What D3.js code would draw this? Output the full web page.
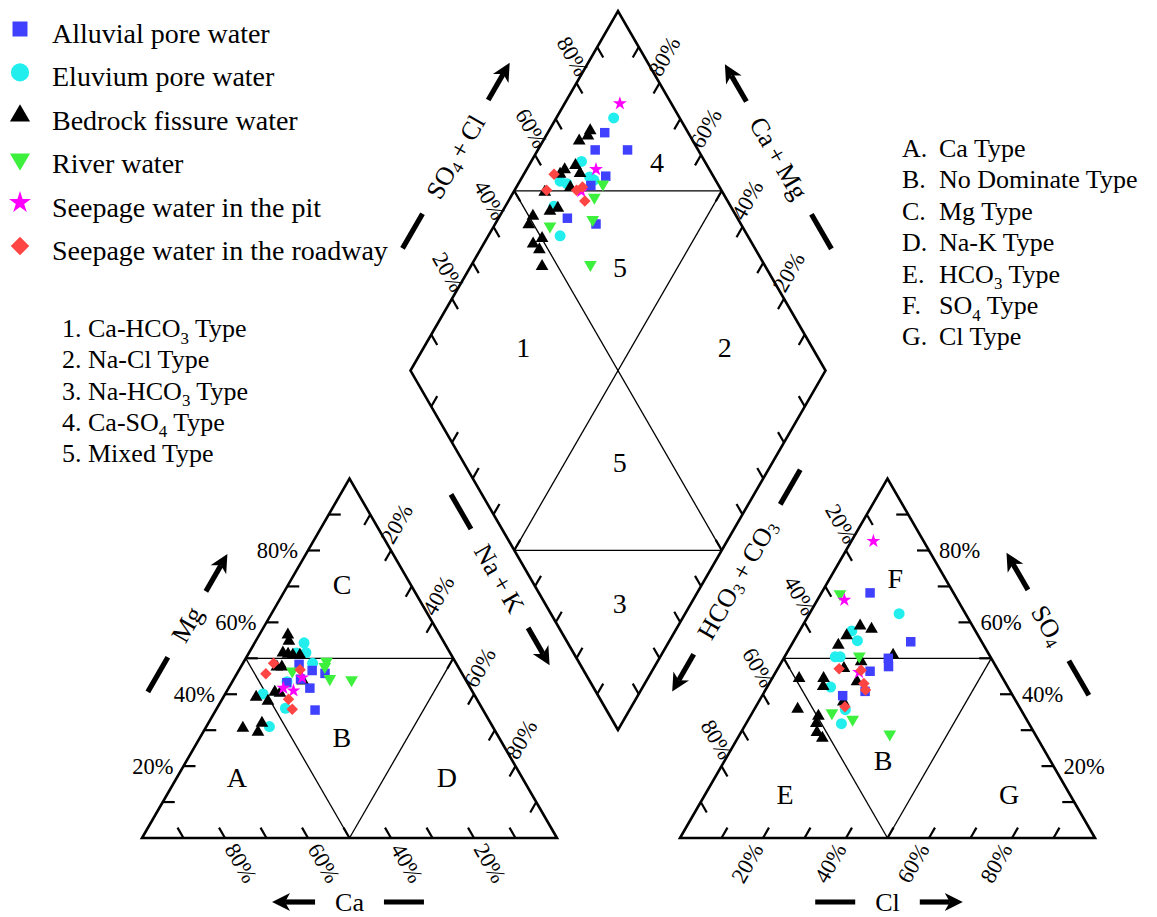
<!DOCTYPE html>
<html>
<head>
<meta charset="utf-8">
<script src="https://cdn.jsdelivr.net/npm/d3@7"></script>
<style>
  body { margin: 0; background: #fff; }
  text { font-family: "Liberation Serif", "Times New Roman", serif; fill: #000; }
</style>
</head>
<body>
<script>
// ---- data ----
// cation triangle: [Ca %, Mg %]  (Na+K = rest)
// anion triangle:  [Cl %, SO4 %] (HCO3+CO3 = rest)
// diamond:         [Ca+Mg %, SO4+Cl %]
const seriesNames = ["Alluvial pore water", "Eluvium pore water", "Bedrock fissure water",
                     "River water", "Seepage water in the pit", "Seepage water in the roadway"];
const seriesColors = ["#4040ff", "#22eeee", "#000000", "#3ef03e", "#ff00ff", "#ff4444"];
const seriesShapes = ["square", "circle", "up", "down", "star", "diamond"];

const alluvialCat = [[38.0,48.3],[35.7,46.6],[33.0,45.8],[39.7,44.2],[43.5,43.2],[38.7,41.7],[40.5,35.6]];
const alluvialAn  = [[11.7,68.2],[28.3,54.6],[25.2,50.0],[26.4,47.7],[22.6,46.4],[24.2,40.8],[19.4,39.6]];
const alluvialDia = [[86.3,79.9],[86.2,75.2],[78.4,83.0],[80.0,74.1],[82.3,69.2],[83.4,59.0],[75.7,65.1]];

const eluviumCat = [[33.8,54.3],[34.7,51.6],[37.1,51.5],[34.6,48.6],[43.3,43.5],[50.8,40.1],[47.4,36.1],[53.8,31.0]];
const eluviumAn  = [[21.6,62.4],[12.6,57.6],[15.3,54.9],[12.2,50.4],[13.4,50.4],[15.3,42.0],[22.0,35.7],[23.0,31.8]];
const eluviumDia = [[86.2,84.1],[87.9,70.3],[90.3,62.4],[88.3,63.7],[83.8,70.1],[82.3,70.7],[88.3,57.4],[82.7,54.8]];

const bedrockCat = [[36.6,56.5],[37.2,54.8],[40.3,51.5],[38.2,50.9],[36.5,50.9],[39.2,51.2],[43.7,47.6],[42.5,47.6],
                    [47.7,40.6],[46.6,40.3],[52.9,39.2],[50.6,38.1],[39.4,43.7],[60.4,30.6],[55.1,32.0],[57.3,29.5]];
const bedrockAn  = [[13.9,59.0],[17.1,58.1],[12.0,56.3],[11.3,53.7],[25.9,50.9],[19.1,49.1],[15.9,47.2],[12.4,44.4],[13.4,42.2],
                    [20.9,43.5],[6.5,44.4],[10.4,35.9],[16.4,33.9],[16.9,31.9],[18.3,29.4],[20.4,27.8],[20.4,37.9]];
const bedrockDia = [[90.1,76.7],[89.9,75.4],[91.3,72.6],[90.8,65.1],[88.8,68.3],[86.6,68.3],[91.3,63.4],[87.0,64.0],[92.5,57.2],
                    [87.1,58.1],[88.6,55.8],[92.0,51.0],[91.8,48.8],[86.7,50.1],[88.1,47.2],[85.8,47.9],[82.8,46.2]];

const riverCat = [[31.0,49.1],[32.1,47.7],[40.6,46.4],[32.6,44.3],[27.5,44.0]];
const riverAn  = [[4.6,67.9],[17.9,50.6],[19.2,34.8],[25.1,33.0],[36.1,28.9]];
const riverDia = [[79.6,72.3],[79.8,68.4],[77.1,64.9],[86.5,53.7],[71.4,58.1]];

const pitCat = [[39.1,44.6],[45.1,41.7],[43.0,41.0]];
const pitAn  = [[5.3,82.6],[6.5,66.2],[20.1,46.1]];
const pitDia = [[86.7,87.6],[83.3,72.7],[83.8,66.1]];

const roadwayCat = [[44.0,48.6],[47.3,45.7],[38.5,46.8],[45.4,38.6],[45.9,35.8]];
const roadwayAn  = [[14.8,47.1],[20.3,46.7],[22.8,43.0],[24.1,41.2],[21.5,36.5]];
const roadwayDia = [[92.7,61.9],[92.3,57.9],[85.1,65.1],[84.1,67.0],[81.6,65.6]];

const tickValues = [10, 20, 30, 40, 50, 60, 70, 80, 90];
const tickLabelValues = [20, 40, 60, 80];

const typeLetters = ["A.", "B.", "C.", "D.", "E.", "F.", "G."];
const typeNames = ["Ca Type", "No Dominate Type", "Mg Type", "Na-K Type", "HCO_3 Type", "SO_4 Type", "Cl Type"];
const hydroTypes = ["1. Ca-HCO_3 Type", "2. Na-Cl Type", "3. Na-HCO_3 Type", "4. Ca-SO_4 Type", "5. Mixed Type"];

// ---- geometry ----
const S = 415, SIN = Math.sqrt(3) / 2, TICK = 12;
const len = d3.scaleLinear().domain([0, 100]).range([0, S]);
const catOrigin = [142, 838], anOrigin = [680, 838], diaOrigin = [618, 730];

function catXY(ca, mg) {
  const nak = 100 - ca - mg;
  return [catOrigin[0] + len(nak) + len(mg) / 2, catOrigin[1] - len(mg) * SIN];
}
function anXY(cl, so4) {
  return [anOrigin[0] + len(cl) + len(so4) / 2, anOrigin[1] - len(so4) * SIN];
}
function diaXY(c, d) {
  return [diaOrigin[0] + (len(d) - len(c)) / 2, diaOrigin[1] - (len(c) + len(d)) * SIN];
}

const svg = d3.select("body").append("svg").attr("width", 1157).attr("height", 917);
const line = d3.line();

// outlines
function outline(pts) {
  svg.append("path").attr("d", line(pts) + "Z").attr("fill", "none")
    .attr("stroke", "#000").attr("stroke-width", 2.6).attr("stroke-linejoin", "miter");
}
outline([catXY(100, 0), catXY(0, 0), catXY(0, 100)]);
outline([anXY(0, 0), anXY(100, 0), anXY(0, 100)]);
outline([diaXY(0, 0), diaXY(100, 0), diaXY(100, 100), diaXY(0, 100)]);

// inner lines
const inner = [
  [catXY(50, 50), catXY(0, 50)], [catXY(50, 50), catXY(50, 0)], [catXY(50, 0), catXY(0, 50)],
  [anXY(0, 50), anXY(50, 50)], [anXY(0, 50), anXY(50, 0)], [anXY(50, 0), anXY(50, 50)],
  [diaXY(100, 50), diaXY(50, 100)], [diaXY(50, 0), diaXY(0, 50)],
  [diaXY(100, 50), diaXY(0, 50)], [diaXY(50, 100), diaXY(50, 0)]
];
svg.append("g").selectAll("path").data(inner).join("path")
  .attr("d", d => line(d)).attr("stroke", "#000").attr("stroke-width", 1.3).attr("fill", "none");

// ticks + labels
function edgeAxis(pointAt, dir, lab) {
  const g = svg.append("g");
  g.selectAll("line").data(tickValues).join("line")
    .attr("x1", v => pointAt(v)[0]).attr("y1", v => pointAt(v)[1])
    .attr("x2", v => pointAt(v)[0] + TICK * dir[0]).attr("y2", v => pointAt(v)[1] + TICK * dir[1])
    .attr("stroke", "#000").attr("stroke-width", 2.2);
  if (!lab) return;
  g.selectAll("text").data(tickLabelValues).join("text")
    .attr("transform", v => `translate(${pointAt(v)[0] + lab.dx},${pointAt(v)[1] + lab.dy}) rotate(${lab.rot})`)
    .attr("text-anchor", lab.anchor)
    .attr("dominant-baseline", lab.rot === 0 ? "central" : "auto")
    .attr("font-size", 22.5)
    .text(v => v + "%");
}
// cation
edgeAxis(v => catXY(100 - v, v), [1, 0], { dx: -10, dy: 0, rot: 0, anchor: "end" });
edgeAxis(v => catXY(v, 0), [-0.5, -SIN], { dx: -1, dy: 11, rot: 60, anchor: "start" });
edgeAxis(v => catXY(0, 100 - v), [-0.5, SIN], { dx: 2, dy: -5, rot: -60, anchor: "start" });
// anion
edgeAxis(v => anXY(100 - v, v), [-1, 0], { dx: 10, dy: 0, rot: 0, anchor: "start" });
edgeAxis(v => anXY(v, 0), [0.5, -SIN], { dx: 1, dy: 11, rot: -60, anchor: "end" });
edgeAxis(v => anXY(0, 100 - v), [0.5, SIN], { dx: -1, dy: -5, rot: 60, anchor: "end" });
// diamond
edgeAxis(v => diaXY(100, v), [0.5, SIN], { dx: 0, dy: -5, rot: 60, anchor: "end" });
edgeAxis(v => diaXY(v, 100), [-0.5, SIN], { dx: 1, dy: -5, rot: -60, anchor: "start" });
edgeAxis(v => diaXY(v, 0), [0.5, -SIN], null);
edgeAxis(v => diaXY(0, v), [-0.5, -SIN], null);

// text with subscripts ("_3")
function richText(sel, str, fs) {
  const parts = str.split(/_(\d)/);
  let down = false;
  parts.forEach((p, i) => {
    if (!p) return;
    const t = sel.append("tspan").text(p);
    if (i % 2 === 1) {
      t.attr("font-size", fs * 0.65).attr("dy", fs * 0.25);
      down = true;
    } else if (down) {
      t.attr("dy", -fs * 0.25);
      down = false;
    }
  });
  return sel;
}

// axis titles with dash and arrow
function axisTitle(a, b, n, txt, dist, shift, rot) {
  const L = Math.hypot(b[0] - a[0], b[1] - a[1]);
  const u = [(b[0] - a[0]) / L, (b[1] - a[1]) / L];
  const m = [(a[0] + b[0]) / 2, (a[1] + b[1]) / 2];
  const c = [m[0] + dist * n[0] + shift * u[0], m[1] + dist * n[1] + shift * u[1]];
  const t = svg.append("text")
    .attr("transform", `translate(${c[0]},${c[1]}) rotate(${rot})`)
    .attr("text-anchor", "middle").attr("dominant-baseline", "central")
    .attr("font-size", 26);
  richText(t, txt, 26);
  const half = t.node().getComputedTextLength() / 2, gap = 20;
  const at = k => [c[0] + k * u[0], c[1] + k * u[1]];
  const d0 = at(-half - gap - 40), d1 = at(-half - gap);
  svg.append("path").attr("d", line([d0, d1])).attr("stroke", "#000").attr("stroke-width", 5.2);
  const a0 = at(half + gap), tip = at(half + gap + 43), neck = at(half + gap + 30);
  const px = [-u[1], u[0]];
  svg.append("path").attr("d", line([a0, neck])).attr("stroke", "#000").attr("stroke-width", 5.2);
  const back = at(half + gap + 25);
  svg.append("path").attr("fill", "#000")
    .attr("d", line([tip, [back[0] + 9 * px[0], back[1] + 9 * px[1]], neck,
                     [back[0] - 9 * px[0], back[1] - 9 * px[1]]]) + "Z");
}
axisTitle(catXY(100, 0), catXY(0, 100), [-SIN, -0.5], "Mg", 68, 0, -60);
axisTitle(catXY(0, 0), catXY(100, 0), [0, 1], "Ca", 64, 0, 0);
axisTitle(catXY(0, 100), catXY(0, 0), [SIN, -0.5], "Na\u2009+\u2009K", 80, -46, 60);
axisTitle(anXY(0, 100), anXY(0, 0), [-SIN, -0.5], "HCO_3\u2009+\u2009CO_3", 80, -45, -60);
axisTitle(anXY(0, 0), anXY(100, 0), [0, 1], "Cl", 64, 0, 0);
axisTitle(anXY(100, 0), anXY(0, 100), [SIN, -0.5], "SO_4", 66, 0, 60);
axisTitle(diaXY(100, 0), diaXY(100, 100), [-SIN, -0.5], "SO_4\u2009+\u2009Cl", 68, 0, -60);
axisTitle(diaXY(0, 100), diaXY(100, 100), [SIN, -0.5], "Ca\u2009+\u2009Mg", 66, 0, 60);

// region labels
const regionLabels = [
  ["C", catXY(16.6, 70.4)], ["B", catXY(37.8, 28.1)], ["A", catXY(68.8, 16.7)], ["D", catXY(18.2, 16.7)],
  ["F", anXY(15.7, 72.3)], ["B", anXY(38.1, 21.7)], ["E", anXY(19.3, 12.0)], ["G", anXY(73.3, 12.0)],
  ["4", diaXY(69.6, 88.4)], ["5", diaXY(63.9, 64.9)], ["1", diaXY(76.0, 30.3)], ["2", diaXY(27.4, 78.9)],
  ["5", diaXY(36.7, 37.6)], ["3", diaXY(17.1, 18.0)]
];
svg.append("g").selectAll("text").data(regionLabels).join("text")
  .attr("x", d => d[1][0]).attr("y", d => d[1][1])
  .attr("text-anchor", "middle").attr("dominant-baseline", "central")
  .attr("font-size", 28).text(d => d[0]);

// points
const symbolTypes = { square: d3.symbolSquare, circle: d3.symbolCircle, up: d3.symbolTriangle,
                      down: d3.symbolTriangle, star: d3.symbolStar, diamond: d3.symbolSquare };
const symbolRot = { square: 0, circle: 0, up: 0, down: 180, star: 0, diamond: 45 };
const plotSize = { square: 90, circle: 95, up: 70, down: 70, star: 60, diamond: 66 };
const legendSize = { square: 225, circle: 260, up: 175, down: 175, star: 150, diamond: 170 };

const series = seriesNames.map((name, i) => ({
  name, color: seriesColors[i], shape: seriesShapes[i],
  cat: [alluvialCat, eluviumCat, bedrockCat, riverCat, pitCat, roadwayCat][i],
  an: [alluvialAn, eluviumAn, bedrockAn, riverAn, pitAn, roadwayAn][i],
  dia: [alluvialDia, eluviumDia, bedrockDia, riverDia, pitDia, roadwayDia][i]
}));

const drawOrder = [1, 2, 0, 3, 4, 5];
drawOrder.forEach(i => {
  const s = series[i];
  const sym = d3.symbol(symbolTypes[s.shape], plotSize[s.shape]);
  const pts = s.cat.map(d => catXY(d[0], d[1]))
    .concat(s.an.map(d => anXY(d[0], d[1])))
    .concat(s.dia.map(d => diaXY(d[0], d[1])));
  svg.append("g").selectAll("path").data(pts).join("path")
    .attr("transform", p => `translate(${p[0]},${p[1]}) rotate(${symbolRot[s.shape]})`)
    .attr("d", sym).attr("fill", s.color);
});

// legend
const leg = svg.append("g").selectAll("g").data(series).join("g")
  .attr("transform", (d, i) => `translate(0,${43 + i * 43.4})`);
leg.append("path")
  .attr("transform", d => `translate(20,-14) rotate(${symbolRot[d.shape]})`)
  .attr("d", d => d3.symbol(symbolTypes[d.shape], legendSize[d.shape])())
  .attr("fill", d => d.color);
leg.append("text").attr("x", 52).attr("font-size", 28).text(d => d.name);

// water type list (right)
typeLetters.forEach((l, i) => {
  const y = 157 + i * 31.4;
  svg.append("text").attr("x", 902).attr("y", y).attr("font-size", 26).text(l);
  richText(svg.append("text").attr("x", 939).attr("y", y).attr("font-size", 26), typeNames[i], 26);
});

// hydrochemical types (left)
hydroTypes.forEach((t, i) => {
  richText(svg.append("text").attr("x", 62).attr("y", 337 + i * 31.3).attr("font-size", 26), t, 26);
});
</script>
</body>
</html>
